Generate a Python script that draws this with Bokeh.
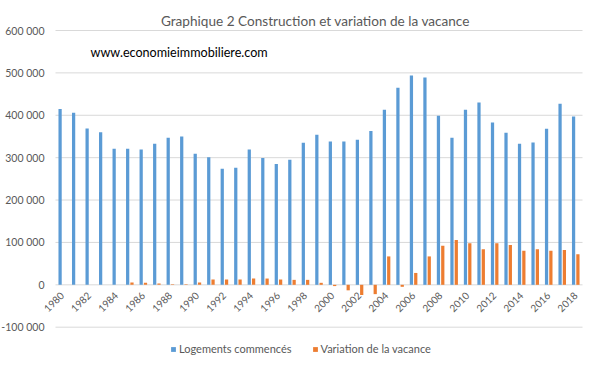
import math
from bokeh.plotting import figure
from bokeh.models import Range1d, Label, Legend, LegendItem, ColumnDataSource
from bokeh.transform import dodge
from bokeh.core.properties import value
from bokeh.embed import file_html
from bokeh.resources import INLINE

# ---- data ----
years = list(range(1980, 2019))
logements = [415000, 406000, 369000, 360000, 321000, 321000, 319000, 333000, 347000, 350000,
             309000, 301000, 274000, 276000, 319000, 299000, 285000, 295000, 335000, 354000,
             338000, 338000, 342000, 363000, 413000, 465000, 494000, 489000, 399000, 347000,
             413000, 430000, 383000, 359000, 333000, 336000, 368000, 427000, 397000]
vacance = [0, 0, 0, 0, 0, 5500, 4700, 3000, 1500, 1500,
           5500, 12500, 12500, 12500, 14800, 14800, 12500, 11700, 11700, 4700,
           -3000, -13000, -24000, -22000, 67000, -4700, 28000, 67000, 92000, 106000,
           98000, 84000, 98000, 94000, 80500, 84000, 80500, 82000, 72000]
label_years = list(range(1980, 2019, 2))
label_texts = [str(y) for y in label_years]
y_ticks = [-100000, 0, 100000, 200000, 300000, 400000, 500000, 600000]
y_tick_texts = ["-100 000", "0", "100 000", "200 000", "300 000", "400 000", "500 000", "600 000"]
title_text = "Graphique 2 Construction et variation de la vacance"
site_text = "www.economieimmobiliere.com"
series_names = ["Logements commencés", "Variation de la vacance"]
colors = ["#5B9BD5", "#ED7D31"]

W, H = 584, 356
# plot area in figure pixels
left, right, top, bottom = 55, 582, 30, 326.7
x0, x1 = years[0] - 0.5, years[-1] + 0.5
y0, y1 = y_ticks[0], y_ticks[-1]
sx = (right - left) / (x1 - x0)
sy = (bottom - top) / (y1 - y0)
x_range = Range1d(x0 - left / sx, x1 + (W - right) / sx)
y_range = Range1d(y0 - (H - bottom) / sy, y1 + top / sy)

src = ColumnDataSource(dict(year=years, logements=logements, vacance=vacance))
lab_src = ColumnDataSource(dict(x=label_years, y=[0] * len(label_years), text=label_texts))
ytick_src = ColumnDataSource(dict(y=y_ticks, x=[x0] * len(y_ticks), xe=[x1] * len(y_ticks),
                                  text=y_tick_texts))

p = figure(width=W, height=H, output_backend="svg", toolbar_location=None,
           x_axis_location=None, y_axis_location=None,
           x_range=x_range, y_range=y_range,
           min_border_left=0, min_border_right=0, min_border_top=0, min_border_bottom=0)
p.outline_line_color = None
p.grid.visible = False

# gridlines
p.segment(x0='x', x1='xe', y0='y', y1='y', source=ytick_src, line_color="#D9D9D9", line_width=1)
# y tick labels
p.text(x='x', y='y', text='text', source=ytick_src, x_offset=-11,
       text_align="right", text_baseline="middle",
       text_font=value("Lato"), text_font_size="10.5px", text_color="#595959")

r1 = p.vbar(x=dodge('year', -0.16, range=p.x_range), top='logements', width=0.24,
            source=src, fill_color=colors[0], line_color=None)
r2 = p.vbar(x=dodge('year', 0.16, range=p.x_range), top='vacance', width=0.24,
            source=src, fill_color=colors[1], line_color=None)

# year labels
p.text(x='x', y='y', text='text', source=lab_src, angle=math.pi / 4,
       text_align="right", text_baseline="middle", x_offset=0, y_offset=9,
       text_font=value("Lato"), text_font_size="10px", text_color="#595959")

p.add_layout(Label(x=315, y=H - 20, x_units="screen", y_units="screen", text=title_text,
                   text_align="center", text_baseline="middle", text_font="Lato",
                   text_font_size="13.6px", text_color="#595959"))
p.add_layout(Label(x=90, y=H - 52, x_units="screen", y_units="screen", text=site_text,
                   text_align="left", text_baseline="middle", text_font="Lato",
                   text_font_size="12.6px", text_color="#000000"))

legend = Legend(items=[LegendItem(label=series_names[0], renderers=[r1]),
                       LegendItem(label=series_names[1], renderers=[r2])],
                orientation="horizontal", location=(170, 1),
                label_text_font="Lato", label_text_font_size="11px", label_text_color="#595959",
                label_height=12, glyph_height=6, glyph_width=6, label_standoff=3,
                spacing=20, padding=0, margin=0,
                border_line_alpha=0, background_fill_alpha=0)
p.add_layout(legend)

open("out.html", "w").write(file_html(p, INLINE))
